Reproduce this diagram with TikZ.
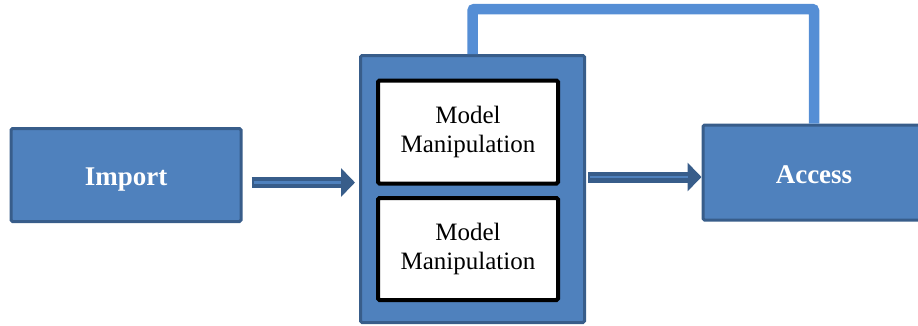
\documentclass[tikz,border=0pt]{standalone}
\usepackage{fontspec}
\setmainfont{Liberation Serif}
\usetikzlibrary{calc}
\usetikzlibrary{arrows.meta}
\definecolor{boxfill}{HTML}{4F81BD}
\definecolor{boxline}{HTML}{385D8A}
\definecolor{loopblue}{HTML}{558ED5}
\tikzset{
  block/.style={draw=boxline,fill=boxfill,line width=3pt,rounded corners=1.5pt,
                text=white,font=\fontsize{27}{30}\selectfont\bfseries,
                text height=27pt,text depth=6pt},
  inner/.style={draw=black,fill=white,line width=4pt,rounded corners=1.5pt,
                align=center,font=\fontsize{25}{29}\selectfont},
  flow/.style={line width=11pt,boxline,-{Triangle[length=14pt,width=28pt]}},
  stripe/.style={line width=2.5pt,boxfill},
  feedback/.style={line width=10.5pt,loopblue,rounded corners=2pt}
}
\begin{document}
\begin{tikzpicture}[x=1pt,y=-1pt]
\useasboundingbox (0,0) rectangle (918,325);
\clip (0,0) rectangle (918,325);
%blocks
\node [block,minimum width=230pt,minimum height=93pt] (import) at (126,175) {Import};
\node [block,minimum width=224pt,minimum height=267pt] (centre) at (472.5,189) {};
\node [block,minimum width=222pt,minimum height=95pt] (access) at (814,172.5) {Access};
%model manipulation
\node [inner,minimum width=180pt,minimum height=103pt] (model1) at (468,132) {Model\\Manipulation};
\node [inner,minimum width=180pt,minimum height=102pt] (model2) at (468,249) {Model\\Manipulation};
%arrows
\draw [flow] ($(import.east)+(9,7.5)$) -- ($(import.east -| centre.west)+(-4,7.5)$);
\draw [stripe] ($(import.east)+(11,7.5)$) -- ($(import.east -| centre.west)+(-18,7.5)$);
\draw [flow] ($(centre.east)+(2,-12)$) -- ($(centre.east -| access.west)+(0,-12)$);
\draw [stripe] ($(centre.east)+(4,-12)$) -- ($(centre.east -| access.west)+(-14,-12)$);
%loop back
\draw [feedback] (centre.north) -- ($(centre.north)+(0,-45)$) -| (access.north);
\end{tikzpicture}
\end{document}
